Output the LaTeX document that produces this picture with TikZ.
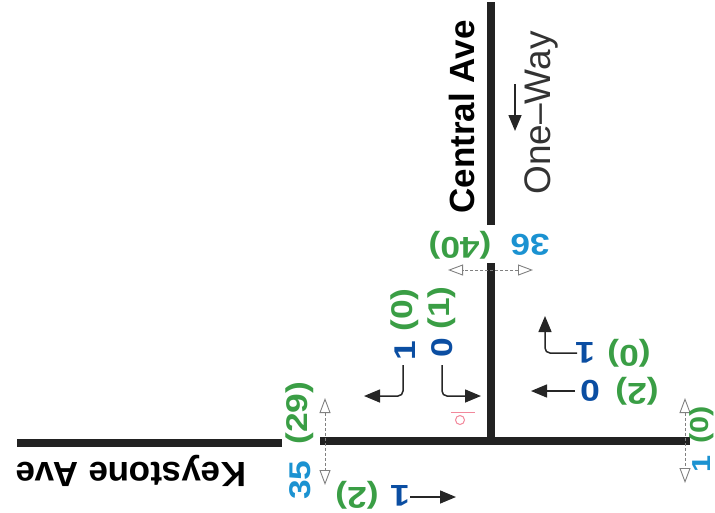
\documentclass[tikz,border=0pt]{standalone}
\usepackage{fontspec}
\setmainfont{Liberation Sans}
\newfontfamily\countfont[FakeStretch=1.18]{Liberation Sans}
\usetikzlibrary{arrows.meta}
\definecolor{cntblue}{HTML}{0B4EA2}
\definecolor{pedblue}{HTML}{1B92D1}
\definecolor{cntgreen}{HTML}{3A9E45}
\definecolor{roadgray}{HTML}{222222}
\definecolor{pedpink}{HTML}{F2889B}
\begin{document}
\begin{tikzpicture}[x=1pt,y=-1pt,
  road/.style={line width=8pt, draw=roadgray},
  lbl/.style={font=\fontsize{35}{35}\selectfont\bfseries, inner sep=0pt},
  num/.style={font=\countfont\fontsize{30}{30}\selectfont\bfseries, inner sep=0pt},
  cnt/.style={num, text=cntblue},
  vol/.style={num, text=pedblue},
  prev/.style={num, text=cntgreen},
  edgenum/.style={font=\countfont\fontsize{26}{26}\selectfont\bfseries},
  move/.style={draw=black!85, line width=1.5pt, rounded corners=5pt,
    -{Triangle[length=16pt,width=13pt]}},
  ped/.style={draw=black!50, densely dashed, line width=0.9pt,
    {Triangle[open,length=15pt,width=11pt]}-{Triangle[open,length=15pt,width=11pt]}}
]
\useasboundingbox (0,0) rectangle (715,512);

% roads
\coordinate (cN1) at (491,2);
\coordinate (cN2) at (491,225);
\coordinate (cS1) at (491,263);
\coordinate (cJ) at (491,441);
\coordinate (kE1) at (320,441);
\coordinate (kE2) at (690,441);
\coordinate (kW1) at (17,443);
\coordinate (kW2) at (282,443);
\draw[road] (cN1) -- (cN2);
\draw[road] (cS1) -- (cJ);
\draw[road] (kE1) -- (kE2);
\draw[road] (kW1) -- (kW2);

% street names
\node[lbl, rotate=90] (central) at (462,117) {Central Ave};
\node[lbl, rotate=180] (keystone) at (131,471) {Keystone Ave};
\node[font=\fontsize{37}{37}\selectfont, inner sep=0pt, rotate=90, text=black!80] (oneway) at (541,113) {One–Way};
\coordinate (ow1) at (515,84);
\coordinate (ow2) at (515,131);
\draw[move] (ow1) -- (ow2);

% pedestrian crossings
\coordinate (pN1) at (533,270);
\coordinate (pN2) at (448,270);
\draw[ped] (pN1) -- (pN2);
\node[vol, rotate=180] (pN) at (530,245) {36};
\node[prev, rotate=180] (pNp) at (460,245) {(40)};

\coordinate (pW1) at (325,398);
\coordinate (pW2) at (325,485);
\draw[ped] (pW1) -- (pW2);
\node[prev, rotate=90] (pWp) at (300,413) {(29)};
\node[vol, rotate=90] (pW) at (300,480) {35};

\coordinate (pE1) at (685,398);
\coordinate (pE2) at (685,483);
\draw[ped] (pE1) -- (pE2);
\node[prev, edgenum, rotate=90] (pEp) at (702,425) {(0)};
\node[vol, edgenum, rotate=90] (pE) at (702,464) {1};

% southbound movements
\node[cnt, rotate=90] (sbR) at (405,351) {1};
\node[prev, rotate=90] (sbRp) at (405,310) {(0)};
\node[cnt, rotate=90] (sbL) at (442,348) {0};
\node[prev, rotate=90] (sbLp) at (442,308) {(1)};
\coordinate (sbR1) at (403,365);
\coordinate (sbR2) at (403,396);
\coordinate (sbR3) at (364,396);
\draw[move] (sbR1) -- (sbR2) -- (sbR3);
\coordinate (sbL1) at (442,365);
\coordinate (sbL2) at (442,396);
\coordinate (sbL3) at (481,396);
\draw[move] (sbL1) -- (sbL2) -- (sbL3);

% westbound movements
\node[cnt, rotate=180] (wbR) at (585,353) {1};
\node[prev, rotate=180] (wbRp) at (629,353) {(0)};
\coordinate (wbR1) at (577,353);
\coordinate (wbR2) at (545,353);
\coordinate (wbR3) at (545,316);
\draw[move] (wbR1) -- (wbR2) -- (wbR3);
\node[cnt, rotate=180] (wbT) at (590,391) {0};
\node[prev, rotate=180] (wbTp) at (637,391) {(2)};
\coordinate (wbT1) at (575,391);
\coordinate (wbT2) at (531,391);
\draw[move] (wbT1) -- (wbT2);

% eastbound movement
\node[cnt, rotate=180] (ebT) at (400,496) {1};
\node[prev, rotate=180] (ebTp) at (357,495) {(2)};
\coordinate (ebT1) at (410,497);
\coordinate (ebT2) at (456,497);
\draw[move] (ebT1) -- (ebT2);

% pink marker
\coordinate (pk1) at (451,412);
\coordinate (pk2) at (475,412);
\draw[pedpink, line width=1pt] (pk1) -- (pk2);
\draw[pedpink, line width=1pt] (460,420) circle[radius=4.5];
\end{tikzpicture}
\end{document}
